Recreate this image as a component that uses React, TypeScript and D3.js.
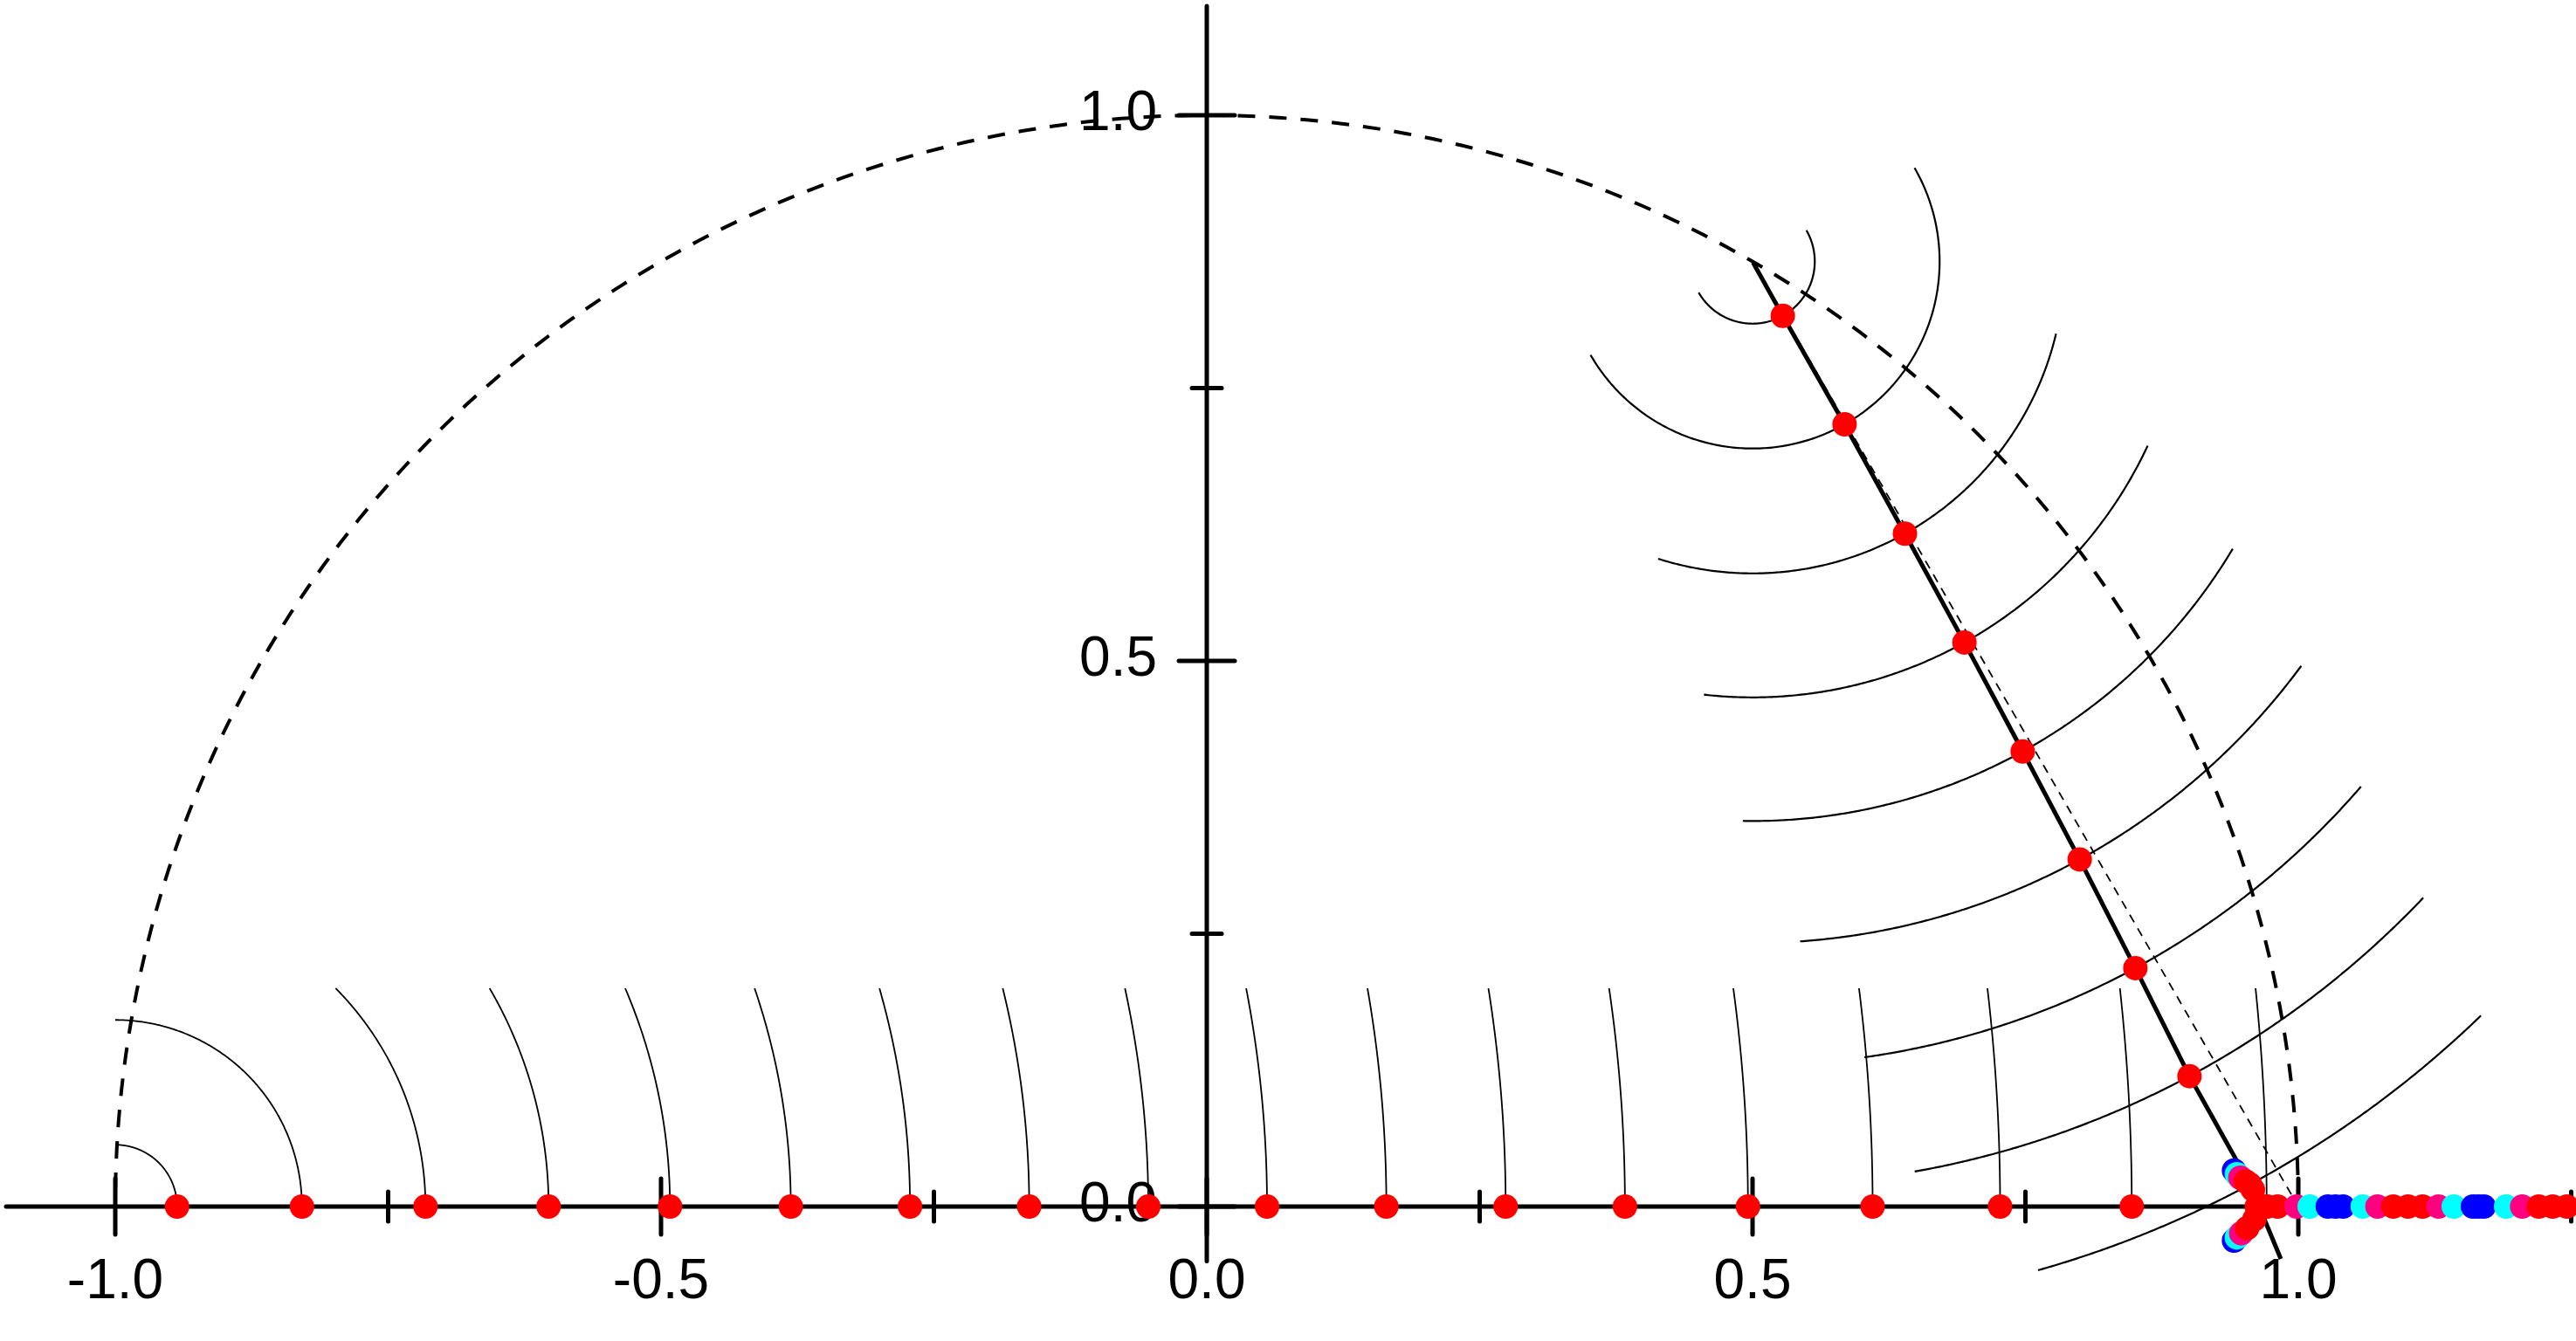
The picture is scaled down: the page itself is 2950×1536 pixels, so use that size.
import React from 'react';
import * as d3 from 'd3';

const W = 2950;
const H = 1536;

// axis ticks
const xTickValues = [-1, -0.75, -0.5, -0.25, 0, 0.25, 0.5, 0.75, 1, 1.25];
const xMajorTicks = [-1, -0.5, 0, 0.5, 1];
const xTickLabels = ['-1.0', '-0.5', '0.0', '0.5', '1.0'];
const yTickValues = [0, 0.25, 0.5, 0.75, 1];
const yMajorTicks = [0, 0.5, 1];
const yTickLabels = ['0.0', '0.5', '1.0'];

// red points on the real axis
const realDotX = [
  -0.9434, -0.829, -0.7158, -0.603, -0.4918, -0.3811, -0.2719, -0.1627, -0.0536,
  0.0552, 0.1645, 0.2738, 0.3831, 0.4958, 0.61, 0.7268, 0.8474, 0.971,
];
const realArcCenter = [-1, 0];
const realArcTop = 0.2;

// red points along the slanted spoke
const lineDotX = [0.5277, 0.5843, 0.6396, 0.6941, 0.7475, 0.7997, 0.8507, 0.9003, 0.9557];
const lineDotY = [0.8162, 0.7168, 0.6166, 0.5169, 0.417, 0.3181, 0.2185, 0.1195, 0.0203];
const lineArcCenter = [0.5, 0.866];
const lineArcStartDeg = [-150, -150, -107.6, -96.4, -91, -86, -82, -79.9, -74.2];
const lineArcEndDeg = [30, 30, -13.4, -25, -30.9, -36.4, -40.8, -43.5, -46];

// spoke ends, chord ends
const spokeX = [0.5005, 0.984];
const spokeY = [0.865, -0.048];
const chordX = [0.5, 1];
const chordY = [0.866, 0];

// coloured cluster near z = 1
const clusterX = [
  0.9411, 0.9437, 0.9469, 0.9518, 0.9584,
  0.9411, 0.9437, 0.9477, 0.9531, 0.9597,
  0.962, 0.971, 0.981, 0.9984, 1.0104, 1.027, 1.034, 1.041, 1.059, 1.0725,
  1.087, 1.1005, 1.1138, 1.1285, 1.1424, 1.16, 1.165, 1.17, 1.1904, 1.2051,
  1.2203, 1.233, 1.246,
];
const clusterY = [
  0.0331, 0.0296, 0.0264, 0.023, 0.0155,
  -0.0312, -0.0283, -0.0245, -0.0197, -0.0117,
  0, 0, 0, 0, 0, 0, 0, 0, 0, 0,
  0, 0, 0, 0, 0, 0, 0, 0, 0, 0,
  0, 0, 0,
];
const clusterCat = [
  3, 2, 1, 0, 0,
  3, 2, 1, 0, 0,
  0, 0, 0, 1, 2, 3, 3, 3, 2, 1,
  0, 0, 0, 1, 2, 3, 3, 3, 2, 1,
  0, 0, 0,
];
const clusterColors = ['#FF0000', '#FF0080', '#00FFFF', '#0000FF'];

const x = d3.scaleLinear().domain([-1.1, 1.25]).range([7, 2944.5]);
const y = d3.scaleLinear().domain([-0.05, 1.1]).range([1444.5, 7]);

const line = d3
  .line<[number, number]>()
  .x((d) => x(d[0]))
  .y((d) => y(d[1]));

function arcPoints(cx: number, cy: number, r: number, a0: number, a1: number): [number, number][] {
  const n = 240;
  return d3.range(n + 1).map((i) => {
    const a = a0 + ((a1 - a0) * i) / n;
    return [cx + r * Math.cos(a), cy + r * Math.sin(a)] as [number, number];
  });
}

const FONT = "'Liberation Sans', Arial, Helvetica, sans-serif";

export default function App() {
  const rad = Math.PI / 180;

  const unitCircle = line(arcPoints(0, 0, 1, 0, Math.PI)) || '';

  const realArcs = realDotX.map((xd) => {
    const r = xd - realArcCenter[0];
    const a1 = Math.min(Math.PI / 2, Math.asin(Math.min(1, realArcTop / r)));
    return line(arcPoints(realArcCenter[0], realArcCenter[1], r, 0, a1)) || '';
  });

  const lineArcs = lineDotX.map((xd, i) => {
    const r = Math.hypot(xd - lineArcCenter[0], lineDotY[i] - lineArcCenter[1]);
    return (
      line(
        arcPoints(lineArcCenter[0], lineArcCenter[1], r, lineArcStartDeg[i] * rad, lineArcEndDeg[i] * rad)
      ) || ''
    );
  });

  const spokePts: [number, number][] = [
    [spokeX[0], spokeY[0]],
    ...lineDotX.map((xd, i) => [xd, lineDotY[i]] as [number, number]),
    [spokeX[1], spokeY[1]],
  ];
  const spoke = line(spokePts) || '';
  const chord = line([
    [chordX[0], chordY[0]],
    [chordX[1], chordY[1]],
  ]) || '';

  const x0 = x(0);
  const y0 = y(0);
  const dotR = 14;

  return (
    <svg
      width={W}
      height={H}
      viewBox={`0 0 ${W} ${H}`}
      style={{ position: 'absolute', left: 0, top: 0, display: 'block', background: '#fff' }}
    >
      <rect x={0} y={0} width={W} height={H} fill="#fff" />

      {/* unit circle (dashed) */}
      <path d={unitCircle} fill="none" stroke="#000" strokeWidth={4} strokeDasharray="20 16" />

      {/* chord */}
      <path d={chord} fill="none" stroke="#000" strokeWidth={1.8} strokeDasharray="10 8" />

      {/* arcs */}
      {realArcs.map((d, i) => (
        <path key={'ra' + i} d={d} fill="none" stroke="#000" strokeWidth={1.8} />
      ))}
      {lineArcs.map((d, i) => (
        <path key={'la' + i} d={d} fill="none" stroke="#000" strokeWidth={2.2} />
      ))}

      {/* axes */}
      <line x1={x(-1.1)} x2={x(1.25)} y1={y0} y2={y0} stroke="#000" strokeWidth={5} strokeLinecap="round" />
      <line x1={x0} x2={x0} y1={y(-0.05)} y2={y(1.1)} stroke="#000" strokeWidth={5} strokeLinecap="round" />
      {xTickValues.map((v) => {
        const major = xMajorTicks.includes(v);
        const h = major ? 32 : 17;
        return (
          <line key={'xt' + v} x1={x(v)} x2={x(v)} y1={y0 - h} y2={y0 + h} stroke="#000" strokeWidth={5} strokeLinecap="round" />
        );
      })}
      {yTickValues.map((v) => {
        const major = yMajorTicks.includes(v);
        const h = major ? 32 : 17;
        return (
          <line key={'yt' + v} x1={x0 - h} x2={x0 + h} y1={y(v)} y2={y(v)} stroke="#000" strokeWidth={5} strokeLinecap="round" />
        );
      })}

      {/* spoke */}
      <path d={spoke} fill="none" stroke="#000" strokeWidth={5} strokeLinejoin="round" />

      {/* labels */}
      {xMajorTicks.map((v, i) => (
        <text key={'xl' + v} x={x(v)} y={y0 + 105} textAnchor="middle" fontFamily={FONT} fontSize={64} fill="#000">
          {xTickLabels[i]}
        </text>
      ))}
      {yMajorTicks.map((v, i) => (
        <text key={'yl' + v} x={x0 - 57} y={y(v) + 17} textAnchor="end" fontFamily={FONT} fontSize={64} fill="#000">
          {yTickLabels[i]}
        </text>
      ))}

      {/* red points */}
      {realDotX.map((xd, i) => (
        <circle key={'rd' + i} cx={x(xd)} cy={y0} r={dotR} fill="#FF0000" />
      ))}
      {lineDotX.map((xd, i) => (
        <circle key={'ld' + i} cx={x(xd)} cy={y(lineDotY[i])} r={dotR} fill="#FF0000" />
      ))}

      {/* coloured cluster */}
      {clusterX.map((xd, i) => (
        <circle key={'cl' + i} cx={x(xd)} cy={y(clusterY[i])} r={dotR} fill={clusterColors[clusterCat[i]]} />
      ))}
    </svg>
  );
}
